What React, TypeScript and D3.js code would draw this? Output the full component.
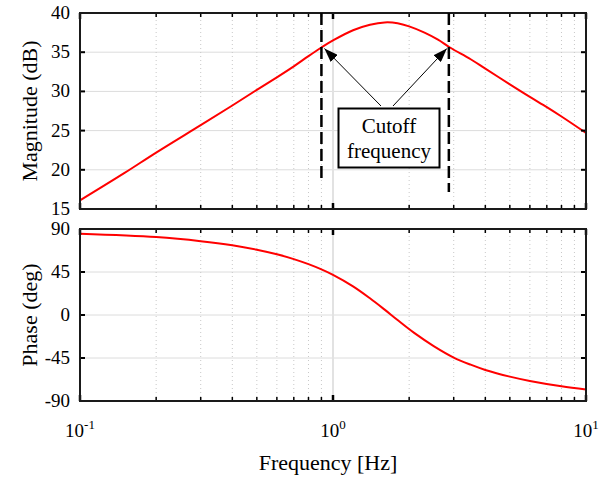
import React, { useEffect, useRef } from "react";
import * as d3 from "d3";

// magnitude response
const magFreq = [0.1, 0.15, 0.2, 0.3, 0.4, 0.5, 0.6, 0.7, 0.8, 0.9, 1.0, 1.2, 1.4, 1.6, 1.8, 2.0, 2.3, 2.6, 2.9, 3.5, 4, 5, 6, 7, 8, 10];
const magDb = [16.1, 19.6, 22.2, 25.7, 28.2, 30.2, 31.8, 33.2, 34.5, 35.6, 36.5, 37.8, 38.5, 38.8, 38.7, 38.3, 37.5, 36.6, 35.6, 34.1, 32.9, 30.9, 29.3, 28.0, 26.8, 24.7];

// phase response
const phaseFreq = [0.1, 0.2, 0.3, 0.4, 0.5, 0.6, 0.7, 0.8, 0.9, 1.0, 1.2, 1.4, 1.6, 1.8, 2.1, 2.5, 3.0, 3.5, 4.0, 5.0, 6.0, 8.0, 10];
const phaseDeg = [85, 81.5, 77.3, 73, 68.3, 63.5, 58.5, 53.2, 47.7, 42, 30, 17.5, 5.6, -5.3, -19, -32.5, -44.5, -52, -57.5, -64.5, -69, -74.6, -78];

const magTicks = [15, 20, 25, 30, 35, 40];
const phaseTicks = [-90, -45, 0, 45, 90];
const decadeTicks = [0.1, 1, 10];
const decadeLabels = ["-1", "0", "1"];
const cutoffFreq = [0.9, 2.87];
const cutoffMag = [35.6, 35.6];

const W = 610;
const H = 477;
const FONT = "'Liberation Serif', 'Times New Roman', serif";

const App = () => {
  const ref = useRef<SVGSVGElement>(null);

  useEffect(() => {
    if (!ref.current) return;
    const svg = d3.select(ref.current);
    svg.selectAll("*").remove();

    const x = d3.scaleLog().domain([0.1, 10]).range([80, 586]);
    const yMag = d3.scaleLinear().domain([15, 40]).range([209, 13]);
    const yPh = d3.scaleLinear().domain([-90, 90]).range([401, 229]);

    const minor: number[] = [];
    [0.1, 1].forEach((d) => {
      for (let k = 2; k <= 9; k++) minor.push(d * k);
    });

    const defs = svg.append("defs");
    defs
      .append("marker")
      .attr("id", "arrowHead")
      .attr("markerUnits", "userSpaceOnUse")
      .attr("markerWidth", 14)
      .attr("markerHeight", 10)
      .attr("refX", 14)
      .attr("refY", 5)
      .attr("orient", "auto")
      .append("path")
      .attr("d", "M0,0 L14,5 L0,10 Z")
      .attr("fill", "#000");

    const panel = (y: d3.ScaleLinear<number, number>, ticks: number[], fx: number[], fy: number[], title: string) => {
      const g = svg.append("g");
      const [y0, y1] = y.range();

      // grid
      g.selectAll(".hgrid")
        .data(ticks.slice(1, -1))
        .enter()
        .append("line")
        .attr("x1", x.range()[0])
        .attr("x2", x.range()[1])
        .attr("y1", (d) => y(d))
        .attr("y2", (d) => y(d))
        .attr("stroke", "#dcdcdc")
        .attr("stroke-width", 1);
      g.selectAll(".vminor")
        .data(minor)
        .enter()
        .append("line")
        .attr("x1", (d) => x(d))
        .attr("x2", (d) => x(d))
        .attr("y1", y0)
        .attr("y2", y1)
        .attr("stroke", "#c8c8c8")
        .attr("stroke-width", 1)
        .attr("stroke-dasharray", "1,3");
      g.append("line")
        .attr("x1", x(1))
        .attr("x2", x(1))
        .attr("y1", y0)
        .attr("y2", y1)
        .attr("stroke", "#e2e2e2")
        .attr("stroke-width", 2);

      // curve
      const line = d3
        .line<number>()
        .x((d) => x(d))
        .y((d, i) => y(fy[i]))
        .curve(d3.curveCatmullRom.alpha(0.5));
      g.append("path")
        .attr("d", line(fx))
        .attr("fill", "none")
        .attr("stroke", "#ff0000")
        .attr("stroke-width", 2);

      // ticks (inward, all four sides)
      const tk = g.append("g").attr("stroke", "#000");
      [y0, y1].forEach((yy, s) => {
        const dir = s === 0 ? -1 : 1;
        tk.selectAll(null)
          .data(minor)
          .enter()
          .append("line")
          .attr("x1", (d) => x(d))
          .attr("x2", (d) => x(d))
          .attr("y1", yy)
          .attr("y2", yy + dir * 4)
          .attr("stroke-width", 1.5);
        tk.selectAll(null)
          .data(decadeTicks)
          .enter()
          .append("line")
          .attr("x1", (d) => x(d))
          .attr("x2", (d) => x(d))
          .attr("y1", yy)
          .attr("y2", yy + dir * 6)
          .attr("stroke-width", 2.5);
      });
      [x.range()[0], x.range()[1]].forEach((xx, s) => {
        const dir = s === 0 ? 1 : -1;
        tk.selectAll(null)
          .data(ticks)
          .enter()
          .append("line")
          .attr("x1", xx)
          .attr("x2", xx + dir * 5)
          .attr("y1", (d) => y(d))
          .attr("y2", (d) => y(d))
          .attr("stroke-width", 2);
      });

      // frame
      g.append("rect")
        .attr("x", x.range()[0])
        .attr("y", y1)
        .attr("width", x.range()[1] - x.range()[0])
        .attr("height", y0 - y1)
        .attr("fill", "none")
        .attr("stroke", "#1a1a1a")
        .attr("stroke-width", 2);

      // y tick labels
      g.selectAll(".ylab")
        .data(ticks)
        .enter()
        .append("text")
        .attr("x", 70)
        .attr("y", (d) => y(d) + 6)
        .attr("text-anchor", "end")
        .attr("font-family", FONT)
        .attr("font-size", 19)
        .attr("fill", "#000")
        .text((d) => String(d));

      g.append("text")
        .attr("transform", `translate(37, ${(y0 + y1) / 2}) rotate(-90)`)
        .attr("text-anchor", "middle")
        .attr("font-family", FONT)
        .attr("font-size", 22)
        .attr("fill", "#000")
        .text(title);
      return g;
    };

    const top = panel(yMag, magTicks, magFreq, magDb, "Magnitude (dB)");
    panel(yPh, phaseTicks, phaseFreq, phaseDeg, "Phase (deg)");

    // cutoff markers
    const ends = [183, 192];
    top
      .selectAll(".cut")
      .data(cutoffFreq)
      .enter()
      .append("line")
      .attr("x1", (d) => x(d))
      .attr("x2", (d) => x(d))
      .attr("y1", yMag.range()[1])
      .attr("y2", (d, i) => ends[i])
      .attr("stroke", "#000")
      .attr("stroke-width", 2.5)
      .attr("stroke-dasharray", "12,5");

    // annotation arrows
    const starts = [
      [381, 106],
      [393, 106],
    ];
    top
      .selectAll(".arrow")
      .data(cutoffFreq)
      .enter()
      .append("line")
      .attr("x1", (d, i) => starts[i][0])
      .attr("y1", (d, i) => starts[i][1])
      .attr("x2", (d, i) => x(d) + (i === 0 ? 3 : -2))
      .attr("y2", (d, i) => yMag(cutoffMag[i]) + 1)
      .attr("stroke", "#000")
      .attr("stroke-width", 1)
      .attr("marker-end", "url(#arrowHead)");

    const box = top.append("g");
    box
      .append("rect")
      .attr("x", 338.5)
      .attr("y", 108.5)
      .attr("width", 101)
      .attr("height", 59)
      .attr("fill", "#fff")
      .attr("stroke", "#000")
      .attr("stroke-width", 2);
    box
      .selectAll("text")
      .data(["Cutoff", "frequency"])
      .enter()
      .append("text")
      .attr("x", 389)
      .attr("y", (d, i) => 133 + i * 25)
      .attr("text-anchor", "middle")
      .attr("font-family", FONT)
      .attr("font-size", 21)
      .attr("fill", "#000")
      .text((d) => d);

    // x tick labels
    const xl = svg
      .selectAll(".xlab")
      .data(decadeTicks)
      .enter()
      .append("text")
      .attr("x", (d) => x(d))
      .attr("y", 437)
      .attr("text-anchor", "middle")
      .attr("font-family", FONT)
      .attr("font-size", 19)
      .attr("fill", "#000");
    xl.append("tspan").text("10");
    xl.append("tspan")
      .attr("dy", -8)
      .attr("font-size", 13)
      .text((d, i) => decadeLabels[i]);

    svg
      .append("text")
      .attr("x", 328)
      .attr("y", 470)
      .attr("text-anchor", "middle")
      .attr("font-family", FONT)
      .attr("font-size", 22)
      .attr("fill", "#000")
      .text("Frequency [Hz]");
  }, []);

  return (
    <svg
      ref={ref}
      width={W}
      height={H}
      style={{ position: "absolute", left: 0, top: 0, background: "#fff" }}
    />
  );
};

export default App;
